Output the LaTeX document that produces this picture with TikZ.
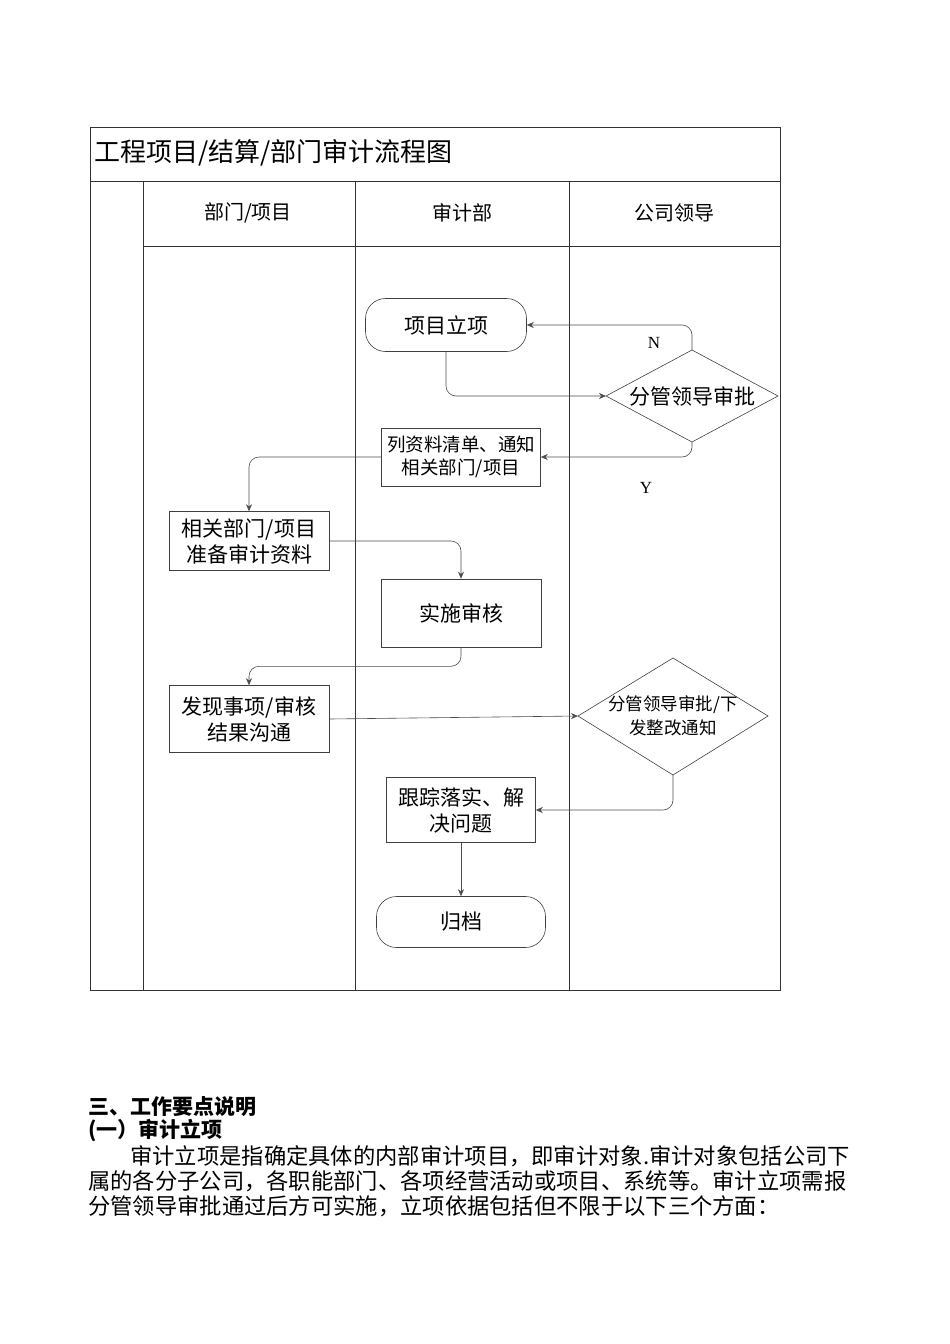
\documentclass[tikz,border=0pt]{standalone}
\usepackage{fontspec}
\setmainfont{Liberation Serif}
\newfontfamily\cjk{Noto Sans CJK SC}
\usetikzlibrary{shapes.geometric,arrows.meta}
\begin{document}
\begin{tikzpicture}[x=1pt,y=-1pt,
  every node/.style={font=\cjk\fontsize{21}{26}\selectfont,inner sep=0pt,align=center},
  box/.style={draw=black!75,line width=0.6pt,minimum width=#1},
  rbox/.style={draw=black!75,line width=0.6pt,rounded corners=20pt},
  dia/.style={draw=black!75,line width=0.6pt},
  conn/.style={draw=black!70,line width=0.6pt,rounded corners=10pt,-{Stealth[length=7pt,width=6pt]}},
  frame/.style={draw=black!80,line width=0.7pt}]
\useasboundingbox (0,0) rectangle (950,1344);
% frame
\draw[frame] (90,127) rectangle (780,990);
\draw[frame] (90,181) -- (780,181);
\draw[frame] (143,181) -- (143,990);
\draw[frame] (355,181) -- (355,990);
\draw[frame] (569,181) -- (569,990);
\draw[frame] (143,246) -- (780,246);
\node[anchor=west,font=\cjk\fontsize{26}{30}\selectfont] (title) at (94,153) {工程项目/结算/部门审计流程图};
\node[font=\cjk\fontsize{20}{24}\selectfont] (h1) at (248,213) {部门/项目};
\node[font=\cjk\fontsize{20}{24}\selectfont] (h2) at (462,213) {审计部};
\node[font=\cjk\fontsize{20}{24}\selectfont] (h3) at (674,213) {公司领导};
% diamonds
\coordinate (d1n) at (692,350); \coordinate (d1s) at (692,442);
\coordinate (d1w) at (606,396); \coordinate (d1e) at (778,396);
\draw[dia] (d1n) -- (d1e) -- (d1s) -- (d1w) -- cycle;
\node (d1) at (692,396) {分管领导审批};
\coordinate (d2n) at (673,658); \coordinate (d2s) at (673,775);
\coordinate (d2w) at (578,716); \coordinate (d2e) at (768,716);
\draw[dia] (d2n) -- (d2e) -- (d2s) -- (d2w) -- cycle;
\node[font=\cjk\fontsize{17.5}{24}\selectfont] (d2) at (673,716) {分管领导审批/下\\发整改通知};
% nodes
\node[rbox,minimum width=161pt,minimum height=53pt] (lx) at (446,325) {项目立项};
\node[box=159pt,minimum height=58pt,font=\cjk\fontsize{18.5}{23}\selectfont] (lz) at (461,457) {列资料清单、通知\\相关部门/项目};
\node[box=160pt,minimum height=59pt] (zb) at (249,541) {相关部门/项目\\准备审计资料};
\node[box=160pt,minimum height=68pt] (ss) at (461,613) {实施审核};
\node[box=160pt,minimum height=67pt] (fx) at (249,719) {发现事项/审核\\结果沟通};
\node[box=149pt,minimum height=65pt] (gz) at (461,810) {跟踪落实、解\\决问题};
\node[rbox,minimum width=169pt,minimum height=51pt] (gd) at (461,922) {归档};
\node[font=\fontsize{17}{18}\selectfont] (N) at (654,343) {N};
\node[font=\fontsize{17}{18}\selectfont] (Y) at (646,488) {Y};
% connectors
\draw[conn] (d1n) |- (lx.east);
\draw[conn] (lx.south) |- (d1w);
\draw[conn] (d1s) |- (lz.east);
\draw[conn] (lz.west) -| (zb.north);
\draw[conn] (zb.east) -| (ss.north);
\draw[conn] (ss.south) -- ++(0,19) -| (fx.north);
\draw[conn,rounded corners=0pt] (fx.east) -- (d2w);
\draw[conn] (d2s) |- (gz.east);
\draw[conn] (gz.south) -- (gd.north);
% text
\begin{scope}[every node/.style={font=\cjk\fontsize{22.3}{26}\selectfont,inner sep=0pt,anchor=west}]
\node[font=\cjk\bfseries\fontsize{21}{24}\selectfont] (t1) at (88,1107) {三、工作要点说明};
\node[font=\cjk\bfseries\fontsize{21}{24}\selectfont] (t2) at (88,1131) {(一）审计立项};
\node (p1) at (130,1156) {审计立项是指确定具体的内部审计项目，即审计对象.审计对象包括公司下};
\node (p2) at (88,1181) {属的各分子公司，各职能部门、各项经营活动或项目、系统等。审计立项需报};
\node (p3) at (88,1206) {分管领导审批通过后方可实施，立项依据包括但不限于以下三个方面：};
\end{scope}
\end{tikzpicture}
\end{document}
